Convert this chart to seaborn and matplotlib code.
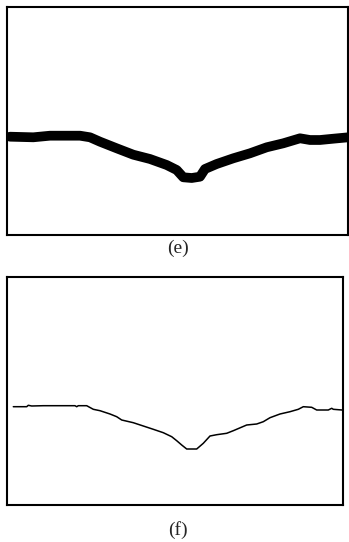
import matplotlib
matplotlib.use("Agg")
import matplotlib.pyplot as plt
import seaborn as sns

# profile: thick band (column, depth from top)
thick_x = [3, 26.3, 43, 73, 83, 93, 109.7, 126.3, 143, 159.7, 169.7, 176.3,
           184.7, 193, 198, 209.7, 226.3, 243, 259.7, 276.3, 293, 303, 313,
           326.3, 341.3]
thick_y = [129.7, 130.3, 128.7, 128.7, 130.3, 134.7, 141.3, 147.7, 152, 158,
           163, 170.3, 171, 169.7, 162, 157, 151.3, 146.3, 140.3, 136.3,
           131.3, 133, 133, 131.7, 130.3]

# profile: thin skeleton line
thin_x = [6.3, 19.7, 21.3, 24.7, 36.3, 68, 69.7, 71.3, 79.7, 86.3, 93, 103,
          109.7, 114.7, 126.3, 136.3, 146.3, 156.3, 164.7, 169.7, 174.7, 179.7,
          189.7, 196.3, 203, 209.7, 219.7, 226.3, 239.7, 249.7, 256.3, 263,
          273, 283, 291.3, 296.3, 304.7, 309.7, 321.3, 324.7, 326.3, 335]
thin_y = [129.7, 129.7, 128.3, 129, 128.7, 128.7, 129.7, 128.7, 128.7, 132.3,
          133.7, 137, 139.7, 143, 145.7, 149, 152.3, 155.7, 159.7, 163.7, 168,
          172, 172, 166.3, 159, 157.7, 156.3, 153.7, 148, 147, 144.7, 140.7,
          137, 134.7, 132.3, 129.7, 130.3, 133, 133, 131.3, 132.3, 133]

labels = ["(e)", "(f)"]

sns.set_style("white")
plt.rcParams['font.family'] = ['Liberation Serif', 'DejaVu Serif']

W, H = 349, 542
fig = plt.figure(figsize=(W / 100, H / 100), dpi=100)

ax_e = fig.add_axes([7 / W, 1 - 235 / H, 341 / W, 228 / H])
ax_f = fig.add_axes([7 / W, 1 - 505 / H, 336 / W, 228 / H])

sns.lineplot(x=thick_x, y=thick_y, ax=ax_e, color='black', linewidth=7,
             sort=False, estimator=None)
sns.lineplot(x=thin_x, y=thin_y, ax=ax_f, color='black', linewidth=1.1,
             sort=False, estimator=None)

ax_e.set_xlim(0, 341)
ax_f.set_xlim(0, 336)
for ax in (ax_e, ax_f):
    ax.set_ylim(228, 0)
    ax.set_xticks([])
    ax.set_yticks([])
    ax.set_xlabel('')
    ax.set_ylabel('')
    for s in ax.spines.values():
        s.set_visible(True)
        s.set_color('black')
        s.set_linewidth(1.5)

fig.text(178 / W, 1 - 248 / H, labels[0], ha='center', va='center', fontsize=14)
fig.text(178 / W, 1 - 530 / H, labels[1], ha='center', va='center', fontsize=14)

fig.savefig('out.png', dpi=100)
